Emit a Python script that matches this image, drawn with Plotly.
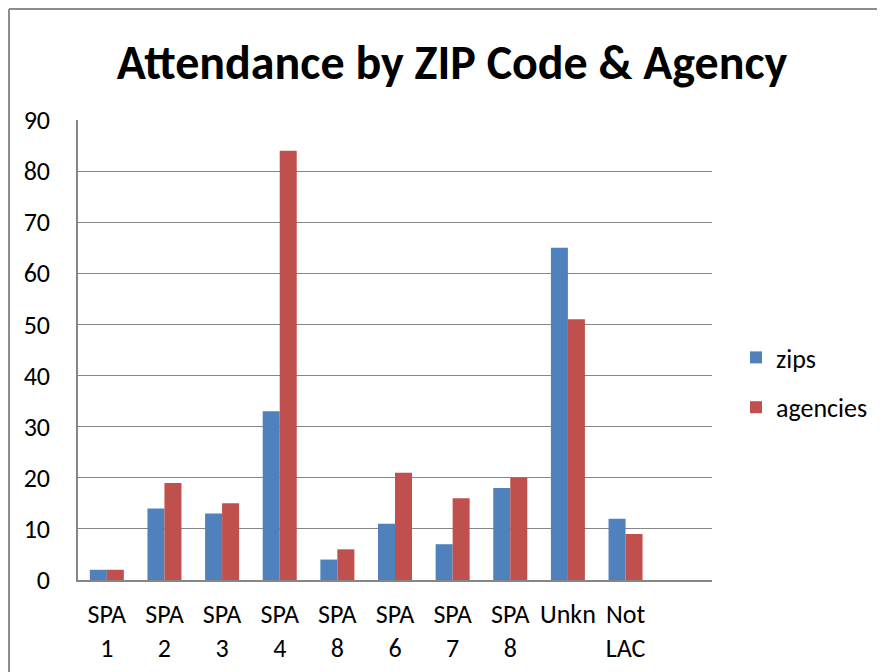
import plotly.graph_objects as go

categories = ["SPA<br>1", "SPA<br>2", "SPA<br>3", "SPA<br>4", "SPA<br>8", "SPA<br>6", "SPA<br>7", "SPA<br>8", "Unkn<br> ", "Not<br>LAC"]
zips = [2, 14, 13, 33, 4, 11, 7, 18, 65, 12]
agencies = [2, 19, 15, 84, 6, 21, 16, 20, 51, 9]
y_ticks = [0, 10, 20, 30, 40, 50, 60, 70, 80, 90]

x_pos = list(range(len(categories)))
FONT = "Carlito, Lato, Open Sans, sans-serif"

fig = go.Figure()
fig.add_trace(go.Bar(x=x_pos, y=zips, name="zips", legendgroup="a",
                     marker=dict(color="#4F81BD", line=dict(width=0))))
fig.add_trace(go.Bar(x=x_pos, y=agencies, name="agencies", legendgroup="b",
                     marker=dict(color="#C0504D", line=dict(width=0))))

OFF = 8  # page offset
W, H = 885, 672
L, T = 78 - OFF, 120 - OFF
pw, ph = 634, 460
R, B = W - L - pw, H - T - ph

def px_x(p):
    return (p - OFF - L) / pw

def px_y(p):
    return 1 - (p - OFF - T) / ph

fig.update_layout(
    width=W, height=H,
    margin=dict(l=L, r=R, t=T, b=B),
    paper_bgcolor="white", plot_bgcolor="white",
    font=dict(family=FONT, size=26, color="black"),
    title=dict(text="<b>Attendance by ZIP Code & Agency</b>", x=px_x(452), xanchor="center",
               xref="paper", y=1 - (62 - OFF) / H, yanchor="middle", font=dict(size=48, family=FONT)),
    barmode="group", bargap=0.41, bargroupgap=0,
    legend=dict(x=px_x(736), y=px_y(334), xanchor="left", yanchor="top",
                font=dict(size=26), tracegroupgap=13, traceorder="grouped",
                itemsizing="constant", itemwidth=30, bgcolor="rgba(0,0,0,0)"),
    xaxis=dict(tickmode="array", tickvals=x_pos, ticktext=categories, range=[-0.5, 10.5],
               showline=True, linecolor="#868686", linewidth=1.5, showgrid=False,
               ticks="", ticklabelstandoff=10, fixedrange=True),
    yaxis=dict(range=[0, 90], tickvals=y_ticks, showline=True, linecolor="#868686", linewidth=1.5,
               showgrid=True, gridcolor="#868686", gridwidth=1.2, zeroline=False,
               ticks="", ticklabelstandoff=21),
    shapes=[
        dict(type="line", xref="paper", yref="paper", x0=px_x(OFF + 1), x1=px_x(OFF + 1),
             y0=px_y(OFF + 1), y1=px_y(700), line=dict(color="#8c8c8c", width=2)),
        dict(type="line", xref="paper", yref="paper", x0=px_x(OFF + 1), x1=px_x(900),
             y0=px_y(OFF + 1), y1=px_y(OFF + 1), line=dict(color="#8c8c8c", width=2)),
    ],
)
fig.write_html("out.html")
